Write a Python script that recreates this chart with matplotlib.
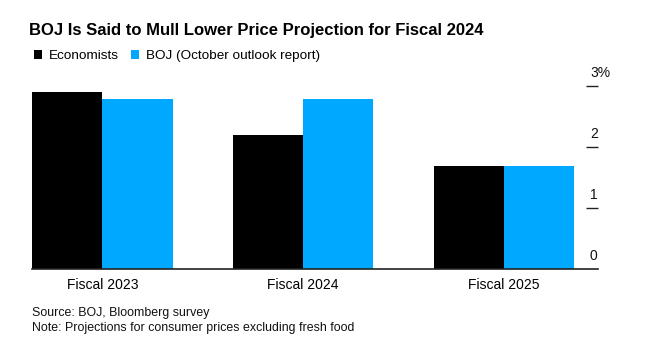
import matplotlib.pyplot as plt
from matplotlib.patches import Patch
import numpy as np

plt.rcParams["font.family"] = ["Liberation Sans", "DejaVu Sans"]

categories = ["Fiscal 2023", "Fiscal 2024", "Fiscal 2025"]
economists = [2.9, 2.2, 1.7]
boj = [2.8, 2.8, 1.7]
yticks = [0, 1, 2, 3]
ytick_labels = ["0", "1", "2", "3%"]

BLACK = "#000000"
BLUE = "#00A8FF"

W, H = 656, 350
fig = plt.figure(figsize=(W / 100, H / 100), dpi=100)
ax = fig.add_axes([32 / W, (H - 269.3) / H, (598 - 32) / W, 189 / H])

x = np.arange(len(categories))
bw = 0.35
ax.bar(x - bw / 2, economists, width=bw, color=BLACK, linewidth=0)
ax.bar(x + bw / 2, boj, width=bw, color=BLUE, linewidth=0)

ax.set_xlim(-0.35, 2.468)
ax.set_ylim(0, 3.1)

for s in ["top", "left", "right"]:
    ax.spines[s].set_visible(False)
ax.spines["bottom"].set_linewidth(1.2)
ax.spines["bottom"].set_color("#222222")

ax.set_xticks(x)
ax.set_xticklabels(categories, fontsize=10)
ax.tick_params(axis="x", length=0, pad=6)

ax.yaxis.tick_right()
ax.set_yticks(yticks)
ax.set_yticklabels([])
ax.tick_params(axis="y", direction="in", length=9, width=1, color="#222222")
ax.yaxis.get_major_ticks()[2].tick2line.set_color("#999999")
ax.yaxis.get_major_ticks()[0].tick2line.set_visible(False)
for v, lab in zip(yticks, ytick_labels):
    ax.annotate(lab, xy=(1, v), xycoords=("axes fraction", "data"),
                xytext=(-8, 6), textcoords="offset pixels",
                ha="left", va="bottom", fontsize=10, color="#111111")

fig.text(29 / W, 1 - 30 / H, "BOJ Is Said to Mull Lower Price Projection for Fiscal 2024",
         fontsize=12, fontweight="bold", ha="left", va="center")

handles = [Patch(facecolor=BLACK, edgecolor="none", label="Economists"),
           Patch(facecolor=BLUE, edgecolor="none", label="BOJ (October outlook report)")]
fig.legend(handles=handles, loc="center left", bbox_to_anchor=(34 / W, 1 - 56 / H),
           ncol=2, frameon=False, fontsize=9.7, handlelength=0.6, handleheight=0.6,
           handletextpad=0.5, columnspacing=0.9, borderpad=0, borderaxespad=0)

fig.text(32 / W, 1 - 313 / H, "Source: BOJ, Bloomberg survey", fontsize=8.9,
         ha="left", va="center", color="#111111")
fig.text(32 / W, 1 - 328 / H, "Note: Projections for consumer prices excluding fresh food",
         fontsize=8.9, ha="left", va="center", color="#111111")

fig.savefig("out.png", dpi=100)
